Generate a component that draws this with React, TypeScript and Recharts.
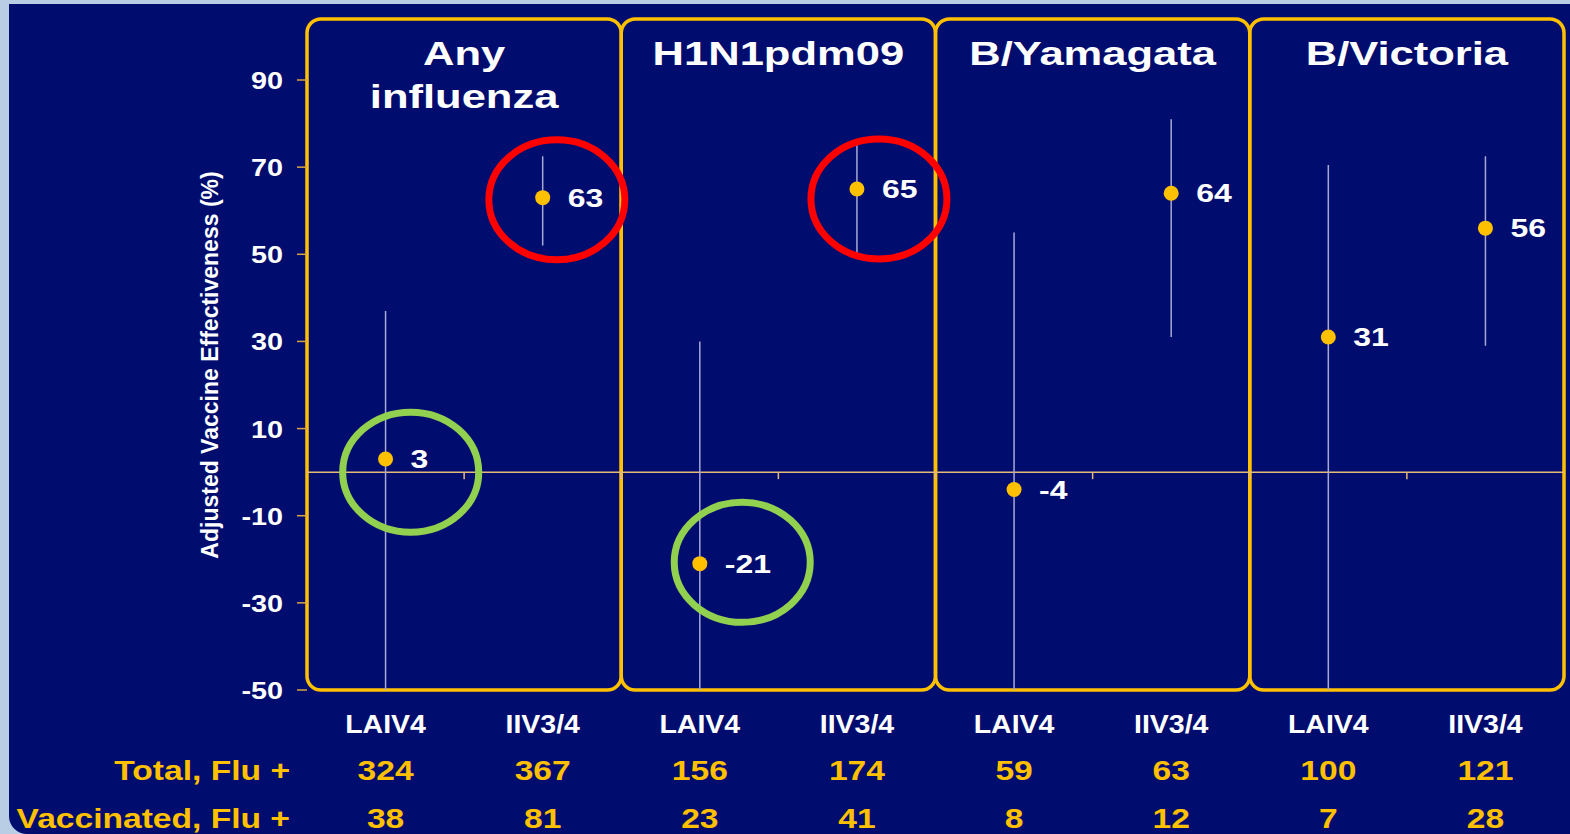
import React from 'react';
import {
  ComposedChart,
  Scatter,
  ErrorBar,
  XAxis,
  YAxis,
  ReferenceArea,
  ReferenceLine,
  ReferenceDot,
} from 'recharts';

const panels = [['Any', 'influenza'], ['H1N1pdm09'], ['B/Yamagata'], ['B/Victoria']];
const panelRanges = [[0, 2], [2, 4], [4, 6], [6, 8]];
const vaccines = ['LAIV4', 'IIV3/4', 'LAIV4', 'IIV3/4', 'LAIV4', 'IIV3/4', 'LAIV4', 'IIV3/4'];
const ve = [3, 63, -21, 65, -4, 64, 31, 56];
const ciLow = [-50, 52, -50, 50, -50, 31, -50, 29];
const ciHigh = [37, 72.5, 30, 76, 55, 81, 70.5, 72.5];
const totalFluPos = [324, 367, 156, 174, 59, 63, 100, 121];
const vaccinatedFluPos = [38, 81, 23, 41, 8, 12, 7, 28];
const yTicks = [-50, -30, -10, 10, 30, 50, 70, 90];
const boundaries = [1, 2, 3, 4, 5, 6, 7];

// highlight rings (centre in data units)
const rings = [
  { x: 0.66, y: 0, color: '#92d050' },
  { x: 2.77, y: -20.7, color: '#92d050' },
  { x: 1.59, y: 62.5, color: '#ff0000' },
  { x: 3.64, y: 62.7, color: '#ff0000' },
];

const data = ve.map((v, i) => ({
  x: i + 0.5,
  ve: v,
  err: [v - ciLow[i], ciHigh[i] - v],
}));

const NAVY = '#010d6e';
const GOLD = '#ffc000';
const FONT = "'Liberation Sans', Arial, sans-serif";

function Txt({ x, y, sx = 1, anchor = 'middle', size, fill = '#fff', children }: any) {
  return (
    <g transform={`translate(${x},${y}) scale(${sx},1)`}>
      <text x={0} y={0} textAnchor={anchor} fontSize={size} fontWeight="bold" fill={fill} fontFamily={FONT}>
        {children}
      </text>
    </g>
  );
}

const panelShape = (lines: string[]) => (p: any) => {
  const { x, y, width, height } = p;
  return (
    <g>
      <rect x={x} y={y} width={width} height={height} rx={14} ry={14} fill="none" stroke={GOLD} strokeWidth={3.5} />
      {lines.map((t, i) => (
        <Txt key={t} x={x + width / 2} y={y + 46 + i * 43} sx={1.28} size={34}>
          {t}
        </Txt>
      ))}
    </g>
  );
};

const dotShape = (p: any) => (
  <g>
    <circle cx={p.cx} cy={p.cy} r={7.5} fill={GOLD} />
    <Txt x={p.cx + 25} y={p.cy + 9} sx={1.28} size={25} anchor="start">
      {p.payload.ve}
    </Txt>
  </g>
);

const XTick = (p: any) => {
  const i = Math.round(p.payload.value - 0.5);
  return (
    <g>
      <Txt x={p.x} y={733} sx={1.14} size={25}>{vaccines[i]}</Txt>
      <Txt x={p.x} y={780} sx={1.2} size={28} fill={GOLD}>{totalFluPos[i]}</Txt>
      <Txt x={p.x} y={828} sx={1.2} size={28} fill={GOLD}>{vaccinatedFluPos[i]}</Txt>
    </g>
  );
};

const YTick = (p: any) => (
  <Txt x={p.x} y={p.y + 9} sx={1.2} size={24} anchor="end">
    {p.payload.value}
  </Txt>
);

const rowLabels = () => (
  <g>
    <Txt x={290} y={780} sx={1.2} size={28} fill={GOLD} anchor="end">Total, Flu +</Txt>
    <Txt x={290} y={828} sx={1.2} size={28} fill={GOLD} anchor="end">Vaccinated, Flu +</Txt>
  </g>
);

const yLabel = () => (
  <text
    transform="translate(218,365) rotate(-90)"
    textAnchor="middle"
    fontSize={23}
    fontWeight="bold"
    fill="#fff"
    fontFamily={FONT}
  >
    Adjusted Vaccine Effectiveness (%)
  </text>
);

export default function App() {
  return (
    <div style={{ position: 'fixed', left: 0, top: 0, width: 1570, height: 834, background: '#b9cde5', overflow: 'hidden' }}>
      <div
        style={{
          position: 'absolute',
          left: 9,
          top: 4,
          width: 1561,
          height: 830,
          background: NAVY,
          borderBottomLeftRadius: 18,
        }}
      />
      <div style={{ position: 'absolute', left: 0, top: 0 }}>
        <ComposedChart width={1570} height={834} data={data} margin={{ top: 19, right: 6, left: 1, bottom: 0 }}>
          <XAxis
            dataKey="x"
            type="number"
            domain={[0, 8]}
            ticks={[0.5, 1.5, 2.5, 3.5, 4.5, 5.5, 6.5, 7.5]}
            interval={0}
            height={144}
            axisLine={false}
            tickLine={false}
            tick={XTick}
            label={{ content: rowLabels }}
          />
          <YAxis
            type="number"
            domain={[-50, 104]}
            ticks={yTicks}
            interval={0}
            width={306}
            axisLine={false}
            tickSize={10}
            tickMargin={14}
            tickLine={{ stroke: '#d9a441', strokeWidth: 1.5 }}
            tick={YTick}
            label={{ content: yLabel }}
          />
          <ReferenceLine y={0} stroke="#e6b97a" strokeWidth={1.5} />
          {boundaries.map((b) => (
            <ReferenceDot
              key={`b-${b}`}
              x={b}
              y={0}
              r={0}
              shape={(p: any) => (
                <line x1={p.cx} y1={p.cy} x2={p.cx} y2={p.cy + 7} stroke="#e6b97a" strokeWidth={1.5} />
              )}
            />
          ))}
          <Scatter dataKey="ve" isAnimationActive={false} shape={dotShape}>
            <ErrorBar dataKey="err" direction="y" width={0} stroke="#a6a9d4" strokeWidth={1.5} />
          </Scatter>
          {rings.map((r, i) => (
            <ReferenceDot
              key={`r-${i}`}
              x={r.x}
              y={r.y}
              r={0}
              ifOverflow="visible"
              shape={(p: any) => (
                <ellipse cx={p.cx} cy={p.cy} rx={68} ry={60} fill="none" stroke={r.color} strokeWidth={7} />
              )}
            />
          ))}
          {panels.map((lines, i) => (
            <ReferenceArea
              key={lines[0]}
              x1={panelRanges[i][0]}
              x2={panelRanges[i][1]}
              y1={-50}
              y2={104}
              ifOverflow="visible"
              shape={panelShape(lines)}
            />
          ))}
        </ComposedChart>
      </div>
    </div>
  );
}
